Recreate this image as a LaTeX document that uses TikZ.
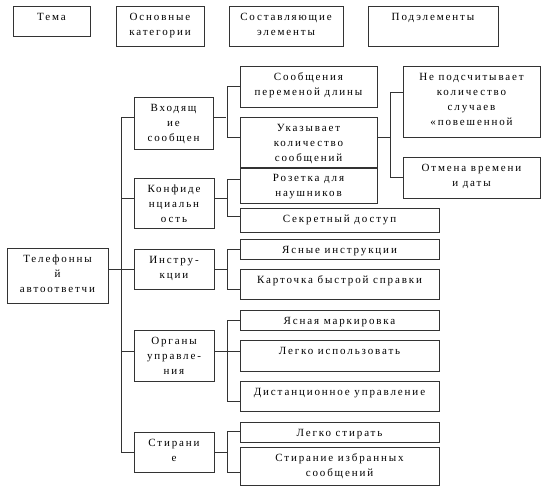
\documentclass[tikz,border=0pt]{standalone}
\usepackage{fontspec}
\setmainfont{Liberation Serif}[LetterSpace=17]
\usepackage{tikz}
\usepackage{xcolor}
\usetikzlibrary{positioning}

\tikzset{
  box/.style={draw, anchor=north west, inner sep=0pt, outer sep=0pt, text height=14pt, align=center},
  two/.style={text height=29pt},
  three/.style={text height=44pt},
  four/.style={text height=59pt},
}

\begin{document}
\begin{tikzpicture}[x=1pt, y=-1pt, line width=0.8pt, draw=black!80, font=\fontsize{11}{15}\selectfont]
  \useasboundingbox (0,0) rectangle (548,490);
  \node (t1) [box, minimum width=77pt, text depth=16pt] at (13,6) {Тема};
  \node (t2) [box, two, minimum width=88pt, text depth=11pt] at (116,6) {Основные\\категории};
  \node (t3) [box, two, minimum width=114pt, text depth=11pt] at (229,6) {Составляющие\\элементы};
  \node (t4) [box, minimum width=130pt, text depth=26pt] at (368,6) {Подэлементы};

  \node (root) [box, three, minimum width=101pt, text depth=11pt] at (7,248) {Телефонны\\й\\автоответчи};

  \node (in) [box, three, minimum width=79pt, text depth=8pt] at (134,97) {Входящ\\ие\\сообщен};
  \node (conf) [box, three, minimum width=80pt, text depth=6pt] at (134,178) {Конфиде\\нциальн\\ость};
  \node (instr) [box, two, minimum width=80pt, text depth=11pt] at (134,249) {Инстру-\\кции};
  \node (ctrl) [box, three, minimum width=80pt, text depth=7pt] at (134,330) {Органы\\управле-\\ния};
  \node (erase) [box, two, minimum width=80pt, text depth=11pt] at (134,432) {Стирани\\е};

  \node (msg1) [box, two, minimum width=137pt, text depth=12pt] at (240,66) {Сообщения\\переменой длины};
  \node (msg2) [box, three, minimum width=137pt, text depth=7pt] at (240,117) {Указывает\\количество\\сообщений};
  \node (jack) [box, two, minimum width=137pt, text depth=7pt] at (240,167) {Розетка для\\наушников};
  \node (secret) [box, minimum width=199pt, text depth=10pt] at (240,208) {Секретный доступ};
  \node (clear) [box, minimum width=199pt, text depth=6pt] at (240,239) {Ясные инструкции};
  \node (card) [box, minimum width=199pt, text depth=16pt] at (240,269) {Карточка быстрой справки};
  \node (marking) [box, minimum width=199pt, text depth=6pt] at (240,310) {Ясная маркировка};
  \node (easy) [box, minimum width=199pt, text depth=17pt] at (240,340) {Легко использовать};
  \node (remote) [box, minimum width=199pt, text depth=16pt] at (240,381) {Дистанционное управление};
  \node (easyerase) [box, minimum width=199pt, text depth=6pt] at (240,422) {Легко стирать};
  \node (selerase) [box, two, minimum width=199pt, text depth=9pt] at (240,447) {Стирание избранных\\сообщений};

  \node (nocount) [box, four, minimum width=137pt, text depth=12pt] at (403,66) {Не подсчитывает\\количество\\случаев\\«повешенной};
  \node (cancel) [box, two, minimum width=137pt, text depth=12pt] at (403,157) {Отмена времени\\и даты};

  \draw ([yshift=6pt]in.west) -- ++(-13,0) |- (erase.west);
  \draw (root.east |- instr.west) -- (instr.west);
  \draw ([yshift=5pt]conf.west) -- ++(-13,0);
  \draw ([yshift=4.5pt]ctrl.west) -- ++(-13,0);

  \draw ([yshift=6pt]in.east) -- ++(13,0);
  \draw (msg1.west) -- ++(-13,0) |- ([yshift=5.5pt]msg2.west);
  \draw ([yshift=5pt]conf.east) -- ++(13,0);
  \draw ([yshift=6pt]jack.west) -- ++(-13,0) |- ([yshift=4pt]secret.west);
  \draw (instr.east) -- ++(13,0);
  \draw (clear.west) -- ++(-13,0) |- ([yshift=-5pt]card.west);
  \draw ([yshift=4.5pt]ctrl.east) -- ++(13,0);
  \draw (marking.west) -- ++(-13,0) |- ([yshift=-5pt]remote.west);
  \draw ([yshift=4.5pt]easy.west) -- ++(-13,0);
  \draw (erase.east) -- ++(13,0);
  \draw ([yshift=1pt]easyerase.west) -- ++(-13,0) |- ([yshift=-6pt]selerase.west);

  \draw ([yshift=5.5pt]msg2.east) -- ++(13,0);
  \draw ([yshift=9.5pt]nocount.west) -- ++(-13,0) |- (cancel.west);
\end{tikzpicture}
\end{document}
